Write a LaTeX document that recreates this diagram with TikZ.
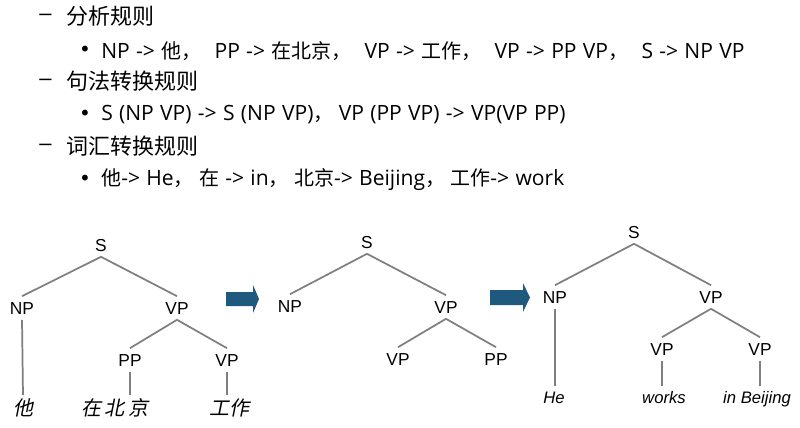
\documentclass[tikz,border=0pt]{standalone}
\usepackage{fontspec}
\setmainfont{Noto Sans CJK SC}
\newfontfamily\cjk{Noto Sans CJK SC}
\newfontfamily\latfont[WordSpace=1.15]{Open Sans}
\newfontfamily\symfont{DejaVu Sans}
\newfontfamily\arial{Liberation Sans}
\newfontfamily\cjkit[FakeSlant=0.2]{Noto Sans CJK SC}
\newcommand\lt[1]{{\latfont\fontsize{15.8}{18}\selectfont #1}}
\newcommand\cgap[1]{\hspace{#1pt}}
\definecolor{linegray}{HTML}{7F7F7F}
\definecolor{arrowblue}{HTML}{1F5A7E}
\tikzset{
  headtext/.style={anchor=west, inner sep=0pt, font=\cjk\fontsize{16.5}{20}\selectfont},
  itemtext/.style={anchor=west, inner sep=0pt, font=\cjk\fontsize{15}{18}\selectfont},
  dashmark/.style={anchor=center, inner sep=0pt, font=\arial\fontsize{16.5}{20}\selectfont},
  bulletmark/.style={anchor=center, inner sep=0pt, font=\symfont\fontsize{15}{18}\selectfont},
  lbl/.style={inner sep=4pt, font=\arial\fontsize{13}{15}\selectfont, text height=9.3pt, text depth=0pt},
  leaf/.style={inner sep=4pt, font=\arial\itshape\fontsize{12.5}{15}\selectfont, text height=9pt, text depth=2.5pt},
  cleaf/.style={inner sep=4pt, font=\cjkit\fontsize{15}{17}\selectfont, text height=11pt, text depth=1.5pt},
  branch/.style={draw=linegray, line width=1.3pt},
  bigarrow/.style={fill=arrowblue}
}
\begin{document}
\begin{tikzpicture}[x=0.75pt,y=-0.75pt]
\useasboundingbox[fill=white] (0,0) rectangle (800,428);

% ---- text block ----
\node[dashmark] (d1) at (45.5,17) {–};
\node[headtext] (h1) at (66,16) {分析规则};
\node[bulletmark] (b1) at (85,51) {•};
\node[itemtext] (t1) at (101,51) {\lt{NP -> }他，\cgap{10}\lt{PP -> }在北京，\cgap{10}\lt{VP -> }工作，\cgap{10}\lt{VP -> PP VP}，\cgap{10}\lt{S -> NP VP}};
\node[dashmark] (d2) at (45.5,82) {–};
\node[headtext] (h2) at (66,81) {句法转换规则};
\node[bulletmark] (b2) at (85,115) {•};
\node[itemtext] (t2) at (101,115) {\lt{S (NP VP) -> S (NP VP)}，\cgap{4}\lt{VP (PP VP) -> VP(VP PP)}};
\node[dashmark] (d3) at (45.5,147) {–};
\node[headtext] (h3) at (66,146) {词汇转换规则};
\node[bulletmark] (b3) at (85,180) {•};
\node[itemtext] (t3) at (101,180) {他\lt{-> He}，\cgap{4}在\lt{ -> in}，\cgap{4}北京\lt{-> Beijing}，\cgap{4}工作\lt{-> work}};

% ---- tree 1 ----
\node[lbl] (s1) at (101,245) {S};
\node[lbl] (np1) at (22,308) {NP};
\node[lbl] (vp1) at (177,308) {VP};
\node[lbl] (pp1) at (130,360) {PP};
\node[lbl] (vp1b) at (227,360) {VP};
\node[cleaf] (ta) at (23,409) {他};
\node[cleaf] (tb) at (115,409) {在\,北\,京};
\node[cleaf] (tc) at (229,409) {工作};
\draw[branch] (s1.south) -- (np1.north);
\draw[branch] (s1.south) -- (vp1.north);
\draw[branch] (np1.south) -- (ta.north);
\draw[branch] (vp1.south) -- (pp1.north);
\draw[branch] (vp1.south) -- (vp1b.north);
\draw[branch] (pp1.south) -- (pp1.south |- tb.north);
\draw[branch] (vp1b.south) -- (vp1b.south |- tc.north);

% ---- arrow 1 ----
\fill[bigarrow] (226,292) -- (253,292) -- (253,285) -- (259,299) -- (253,313) -- (253,306) -- (226,306) -- cycle;

% ---- tree 2 ----
\node[lbl] (s2) at (367,242) {S};
\node[lbl] (np2) at (290,306) {NP};
\node[lbl] (vp2) at (446,307) {VP};
\node[lbl] (vp2a) at (398,359) {VP};
\node[lbl] (pp2) at (496,359) {PP};
\draw[branch] (s2.south) -- (np2.north);
\draw[branch] (s2.south) -- (vp2.north);
\draw[branch] (vp2.south) -- (vp2a.north);
\draw[branch] (vp2.south) -- (pp2.north);

% ---- arrow 2 ----
\fill[bigarrow] (490,290) -- (523,290) -- (523,283) -- (530,297.5) -- (523,312) -- (523,305) -- (490,305) -- cycle;

% ---- tree 3 ----
\node[lbl] (s3) at (634,232) {S};
\node[lbl] (np3) at (555,297) {NP};
\node[lbl] (vp3) at (711,297) {VP};
\node[lbl] (vp3a) at (662,349) {VP};
\node[lbl] (vp3b) at (760,349) {VP};
\node[leaf] (he) at (554,399) {He};
\node[leaf] (wk) at (664,399) {works};
\node[leaf] (ib) at (757,399) {in Beijing};
\draw[branch] (s3.south) -- (np3.north);
\draw[branch] (s3.south) -- (vp3.north);
\draw[branch] (np3.south) -- (np3.south |- he.north);
\draw[branch] (vp3.south) -- (vp3a.north);
\draw[branch] (vp3.south) -- (vp3b.north);
\draw[branch] (vp3a.south) -- (vp3a.south |- wk.north);
\draw[branch] (vp3b.south) -- (vp3b.south |- ib.north);
\end{tikzpicture}
\end{document}
